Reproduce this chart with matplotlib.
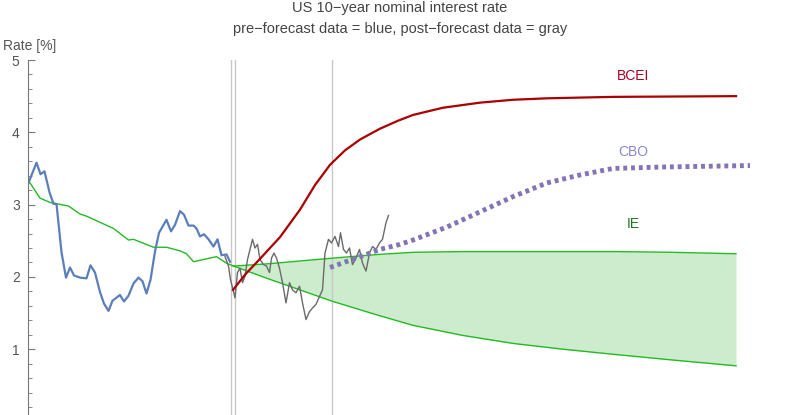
import matplotlib
matplotlib.use('Agg')
import matplotlib.pyplot as plt
from matplotlib.ticker import MultipleLocator

plt.rcParams['font.family'] = ['Liberation Sans', 'DejaVu Sans']

# pre-forecast (blue)
blue_t = [2012.01, 2012.17, 2012.25, 2012.33, 2012.43, 2012.51, 2012.57, 2012.67, 2012.76, 2012.84,
          2012.92, 2013.04, 2013.17, 2013.25, 2013.34, 2013.44, 2013.52, 2013.61, 2013.69, 2013.84,
          2013.92, 2014.01, 2014.11, 2014.21, 2014.29, 2014.37, 2014.45, 2014.54, 2014.62, 2014.77,
          2014.86, 2014.94, 2015.04, 2015.12, 2015.21, 2015.31, 2015.37, 2015.44, 2015.52, 2015.61,
          2015.71, 2015.79, 2015.87, 2015.97, 2016.04]
blue_v = [3.30, 3.58, 3.42, 3.46, 3.17, 3.01, 3.01, 2.34, 1.99, 2.13,
          2.02, 1.99, 1.98, 2.16, 2.06, 1.79, 1.63, 1.53, 1.67, 1.75,
          1.66, 1.74, 1.91, 1.99, 1.94, 1.77, 1.96, 2.35, 2.61, 2.79,
          2.63, 2.72, 2.91, 2.86, 2.71, 2.71, 2.67, 2.56, 2.59, 2.52,
          2.42, 2.52, 2.30, 2.31, 2.21]

# post-forecast (gray)
gray_t = [2015.94, 2016.01, 2016.05, 2016.11, 2016.14, 2016.19, 2016.24, 2016.29, 2016.34, 2016.39,
          2016.44, 2016.49, 2016.54, 2016.59, 2016.64, 2016.71, 2016.77, 2016.83, 2016.87, 2016.92,
          2016.97, 2017.03, 2017.09, 2017.16, 2017.23, 2017.29, 2017.36, 2017.43, 2017.49, 2017.56,
          2017.63, 2017.69, 2017.76, 2017.83, 2017.89, 2017.94, 2018.01, 2018.07, 2018.14, 2018.21,
          2018.25, 2018.31, 2018.37, 2018.43, 2018.49, 2018.56, 2018.63, 2018.69, 2018.76, 2018.83,
          2018.89, 2018.96, 2019.03, 2019.09, 2019.16, 2019.21]
gray_v = [2.28, 2.15, 1.96, 1.80, 1.71, 2.06, 2.12, 1.92, 2.01, 2.24,
          2.38, 2.52, 2.40, 2.45, 2.24, 2.17, 2.15, 2.06, 2.26, 2.33,
          2.26, 2.12, 1.92, 1.64, 1.92, 1.82, 1.78, 1.87, 1.64, 1.41,
          1.52, 1.57, 1.62, 1.73, 1.82, 2.33, 2.52, 2.47, 2.56, 2.42,
          2.61, 2.38, 2.33, 2.40, 2.17, 2.26, 2.38, 2.19, 2.08, 2.33,
          2.42, 2.38, 2.47, 2.52, 2.75, 2.85]

# IE history and band
ie_hist_t = [2012.01, 2012.04, 2012.24, 2012.44, 2012.81, 2013.04, 2013.17, 2013.71, 2014.01, 2014.11,
             2014.51, 2014.77, 2015.04, 2015.17, 2015.31, 2015.77, 2015.97, 2016.11]
ie_hist_v = [3.30, 3.30, 3.09, 3.03, 2.98, 2.87, 2.84, 2.67, 2.51, 2.52,
             2.41, 2.41, 2.36, 2.32, 2.21, 2.28, 2.19, 2.15]
ie_band_t = [2016.11, 2016.78, 2017.44, 2018.10, 2019.00, 2019.70, 2020.70, 2021.70, 2022.70,
             2023.70, 2024.90, 2026.16]
ie_hi = [2.15, 2.18, 2.22, 2.26, 2.31, 2.34, 2.35, 2.35, 2.35, 2.35, 2.34, 2.32]
ie_lo = [2.15, 1.98, 1.82, 1.66, 1.47, 1.33, 1.19, 1.08, 1.00, 0.93, 0.85, 0.77]

bcei_t = [2016.10, 2016.34, 2016.64, 2017.04, 2017.44, 2017.74, 2018.04, 2018.34, 2018.64, 2019.04,
          2019.40, 2019.70, 2020.30, 2021.04, 2021.70, 2022.38, 2023.70, 2026.16]
bcei_v = [1.82, 2.03, 2.25, 2.55, 2.93, 3.27, 3.55, 3.75, 3.90, 4.05,
          4.16, 4.24, 4.34, 4.41, 4.45, 4.47, 4.49, 4.50]

cbo_t = [2018.04, 2019.04, 2019.44, 2019.70, 2020.38, 2021.04, 2021.70, 2022.38, 2023.04, 2023.70,
         2024.70, 2026.44]
cbo_v = [2.13, 2.38, 2.45, 2.51, 2.69, 2.90, 3.11, 3.30, 3.41, 3.50,
         3.52, 3.54]

vlines = [2016.06, 2016.14, 2018.08]

fig = plt.figure(figsize=(7.92, 4.15), dpi=100)
ax = fig.add_axes([28/792, 0, 757/792, 355/415])
ax.set_xlim(2012.0, 2027.14)
ax.set_ylim(5 - 355/72.3, 5.0)

for x in vlines:
    ax.axvline(x, color='#c8c8c8', lw=1)

ax.fill_between(ie_band_t, ie_lo, ie_hi, color='#cdeccd', lw=0)
ax.plot(ie_hist_t, ie_hist_v, color='#22bb22', lw=1)
ax.plot(ie_band_t, ie_hi, color='#22bb22', lw=1)
ax.plot(ie_band_t, ie_lo, color='#22bb22', lw=1)
ax.plot(blue_t, blue_v, color='#5b7fb8', lw=1.6)
ax.plot(gray_t, gray_v, color='#6a6a6a', lw=1)
ax.plot(bcei_t, bcei_v, color='#aa0000', lw=1.6)
ax.plot(cbo_t, cbo_v, color='#8573b5', lw=3.5, ls=(0, (0.8, 0.8)))

ax.text(2024.1, 4.72, 'BCEI', color='#aa0022', fontsize=10, ha='center')
ax.text(2024.1, 3.67, 'CBO', color='#8888cc', fontsize=10, ha='center')
ax.text(2024.1, 2.68, 'IE', color='#227722', fontsize=10, ha='center')

for s in ['top', 'right', 'bottom']:
    ax.spines[s].set_visible(False)
ax.spines['left'].set_color('#777777')
ax.set_xticks([])
ax.set_yticks([1, 2, 3, 4, 5])
ax.yaxis.set_minor_locator(MultipleLocator(0.2))
ax.tick_params(axis='y', which='major', direction='in', length=5, color='#777777',
               labelcolor='#555555', labelsize=10, pad=6)
ax.tick_params(axis='y', which='minor', direction='in', length=3, color='#777777')

fig.text(3/792, 1 - 46/415, 'Rate [%]', color='#555555', fontsize=10, va='center')
fig.text(400/792, 1 - 8/415, 'US 10\u2212year nominal interest rate', color='#444444',
         fontsize=10.5, ha='center', va='center')
fig.text(400/792, 1 - 29/415, 'pre\u2212forecast data = blue, post\u2212forecast data = gray',
         color='#444444', fontsize=10.5, ha='center', va='center')

fig.savefig('out.png', dpi=100)
